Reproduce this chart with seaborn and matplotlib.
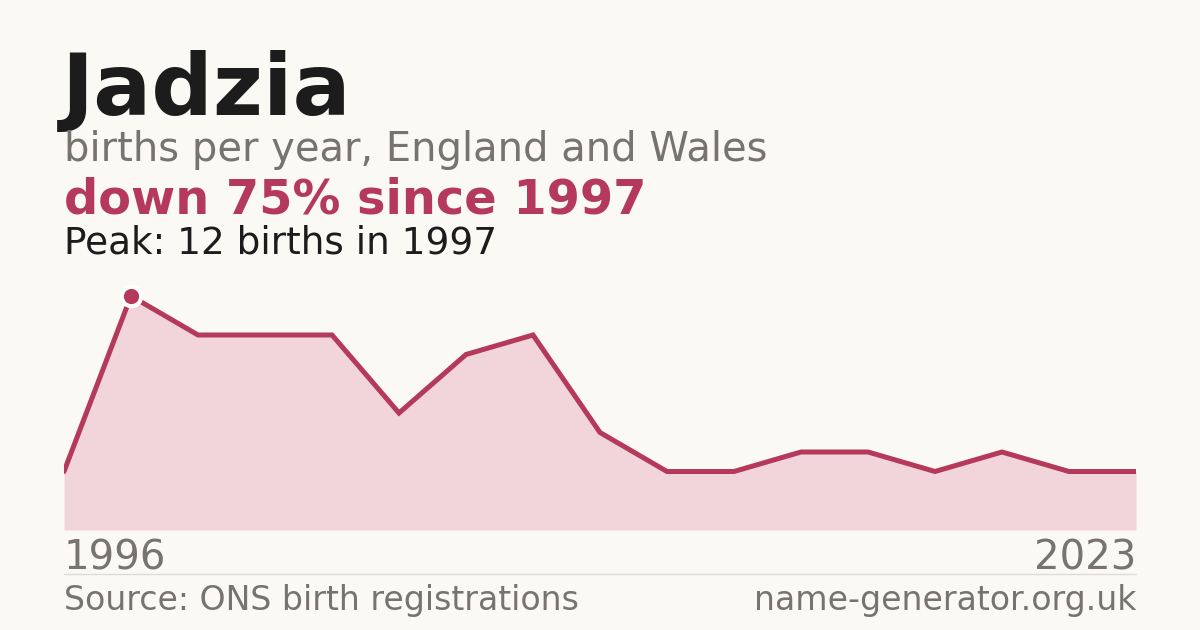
import numpy as np
import pandas as pd
import matplotlib
matplotlib.use("Agg")
import matplotlib.pyplot as plt
import seaborn as sns

# births per year (only the years that were published)
births = [3, 12, 10, 10, 10, 6, 9, 10, 5, 3, 3, 4, 4, 3, 4, 3, 3]
first_year = "1996"
last_year = "2023"
name = "Jadzia"
subtitle = "births per year, England and Wales"
change_text = "down 75% since 1997"
peak_text = "Peak: 12 births in 1997"
source_text = "Source: ONS birth registrations"
site_text = "name-generator.org.uk"

bg = "#faf9f4"
red = "#b5395a"
fill = "#f1d5db"
grey = "#77736d"
dark = "#1c1c1c"

sns.set_theme(style="white")
plt.rcParams["font.family"] = ["DejaVu Sans"]

W, H = 1200, 630
fig = plt.figure(figsize=(12, 6.3), dpi=100, facecolor=bg)


def fx(px):
    return px / W


def fy(py):
    return 1 - py / H


df = pd.DataFrame({"i": np.arange(len(births)), "births": births})

ax = fig.add_axes([fx(64), fy(530), fx(1136 - 64), (530 - 296) / H])
ax.set_facecolor(bg)
ax.fill_between(df["i"], 0, df["births"], color=fill, lw=0, zorder=1)
sns.lineplot(data=df, x="i", y="births", ax=ax, color=red, lw=3.6,
             solid_joinstyle="miter", zorder=2)
peak = int(np.argmax(births))
ax.plot(peak, births[peak], "o", ms=14, mfc=red, mec="white", mew=3,
        clip_on=False, zorder=3)
ax.set_xlim(0, len(births) - 1)
ax.set_ylim(0, max(births))
ax.axis("off")

fig.text(fx(62), fy(115), name, fontsize=62, fontweight="bold", color=dark,
         va="baseline")
fig.text(fx(64), fy(161), subtitle, fontsize=28.8, color=grey, va="baseline")
fig.text(fx(64), fy(214), change_text, fontsize=34.5, fontweight="bold",
         color=red, va="baseline")
fig.text(fx(64), fy(254), peak_text, fontsize=26.9, color=dark, va="baseline")

fig.text(fx(64), fy(569), first_year, fontsize=29, color=grey, va="baseline")
fig.text(fx(1136), fy(569), last_year, fontsize=29, color=grey,
         va="baseline", ha="right")
fig.add_artist(plt.Line2D([fx(64), fx(1136)], [fy(574), fy(574)],
                          color="#dddbd5", lw=1))
fig.text(fx(64), fy(610), source_text, fontsize=23.9, color=grey, va="baseline")
fig.text(fx(1136), fy(610), site_text, fontsize=23.9, color=grey,
         va="baseline", ha="right")

fig.savefig("out.png", dpi=100, facecolor=bg)
